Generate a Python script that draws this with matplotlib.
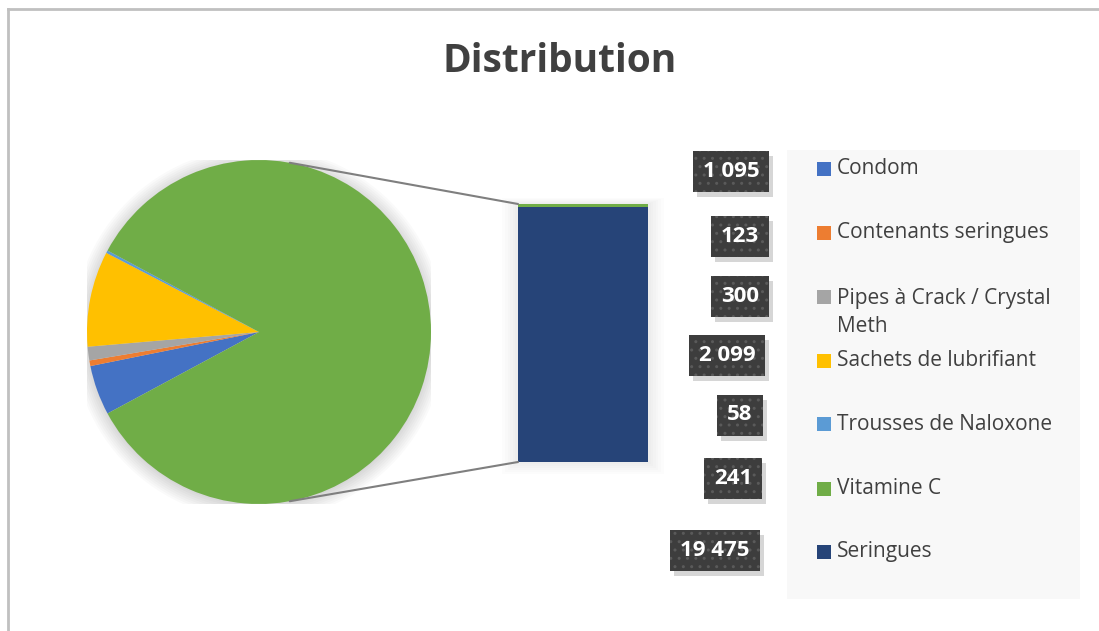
import matplotlib
matplotlib.use("Agg")
import matplotlib.pyplot as plt
from matplotlib.patches import Rectangle, ConnectionPatch, Circle
from matplotlib.lines import Line2D
import numpy as np

plt.rcParams['font.family'] = ['Open Sans', 'DejaVu Sans']
plt.rcParams['hatch.linewidth'] = 1.0

# data
categories = ["Condom", "Contenants seringues", "Pipes à Crack / Crystal\nMeth",
              "Sachets de lubrifiant", "Trousses de Naloxone", "Vitamine C", "Seringues"]
values = [1095, 123, 300, 2099, 58, 241, 19475]
labels = ["1 095", "123", "300", "2 099", "58", "241", "19 475"]
colors = ["#4472c4", "#ed7d31", "#a5a5a5", "#ffc000", "#5b9bd5", "#70ad47", "#264478"]

pie_vals = values[:5]
bar_vals = values[5:]
other = sum(bar_vals)

W, H = 1099, 631
fig = plt.figure(figsize=(W / 100, H / 100), dpi=100)
fig.patch.set_facecolor("white")


def fx(x):
    return x / W


def fy(y):
    return 1 - y / H


# frame (only top and left edges show)
fig.add_artist(Line2D([fx(8), fx(8)], [fy(9), 0], color="#c0c0c0", lw=2, transform=fig.transFigure))
fig.add_artist(Line2D([fx(8), 1], [fy(9), fy(9)], color="#c0c0c0", lw=2, transform=fig.transFigure))

fig.text(fx(560), fy(61), "Distribution", ha="center", va="center",
         fontsize=28, fontweight="bold", color="#404040")

# pie
ax_pie = fig.add_axes([fx(87), fy(504), fx(344), 344 / H])
for k in range(8):
    ax_pie.add_patch(Circle((0.0, -0.01), 1.0 + 0.012 * k, color="black", alpha=0.018, lw=0, zorder=0))
span = sum(pie_vals) / (sum(pie_vals) + other) * 360
ax_pie.pie(pie_vals + [other], colors=colors[:5] + ["#70ad47"],
           startangle=180 + span / 2, counterclock=False, radius=1.0,
           wedgeprops=dict(linewidth=0))
ax_pie.set_xlim(-1, 1)
ax_pie.set_ylim(-1, 1)
ax_pie.set_aspect("equal")
ax_pie.axis("off")

# bar of the "other" part
ax_bar = fig.add_axes([fx(518), fy(462), fx(130), 258 / H])
bottom = 0
for v, c in zip(bar_vals[::-1], colors[5:][::-1]):
    ax_bar.bar(0, v, width=1.0, bottom=bottom, color=c, linewidth=0)
    bottom += v
ax_bar.set_xlim(-0.5, 0.5)
ax_bar.set_ylim(0, other)
ax_bar.axis("off")
for k in range(1, 7):
    ax_bar.add_patch(Rectangle((-0.5 - 0.02 * k, -other * 0.008 * k), 1.0 + 0.04 * k, other * (1 + 0.012 * k),
                               fc="black", alpha=0.012, lw=0, zorder=-1, clip_on=False))

ang = np.deg2rad(79.7)
for sgn, yb in [(1, other), (-1, 0)]:
    con = ConnectionPatch(xyA=(np.cos(ang), sgn * np.sin(ang)), coordsA=ax_pie.transData,
                          xyB=(-0.5, yb), coordsB=ax_bar.transData, color="#7f7f7f", lw=1.5)
    fig.add_artist(con)

# legend panel
fig.add_artist(Rectangle((fx(787), fy(599)), fx(1080 - 787), (599 - 150) / H,
                         transform=fig.transFigure, fc="#f8f8f8", ec="none", zorder=0))
leg_y = [169, 233, 297, 361, 424, 489, 552]
for name, c, y in zip(categories, colors, leg_y):
    fig.add_artist(Rectangle((fx(817), fy(y + 7)), fx(14), 14 / H,
                             transform=fig.transFigure, fc=c, ec="none"))
    if "\n" in name:
        fig.text(fx(837), fy(y - 9), name, ha="left", va="top",
                 fontsize=15, color="#404040", linespacing=1.42)
    else:
        fig.text(fx(837), fy(y), name, ha="left", va="center",
                 fontsize=15, color="#404040")

# value labels (dark boxes with a soft offset shadow)
lab_pos = [(731, 171), (740, 236), (740, 297), (727, 356), (740, 415), (733, 478), (715, 550)]
boxes = []
for txt, (x, y) in zip(labels, lab_pos):
    t = fig.text(fx(x), fy(y), txt, ha="center", va="center", fontsize=16,
                 fontweight="bold", color="white", zorder=3,
                 bbox=dict(boxstyle="square,pad=0.45", fc="#3d3d3d", ec="#5a5a5a", lw=0, hatch=".."))
    boxes.append(t)

fig.canvas.draw()
for t in boxes:
    bb = t.get_bbox_patch().get_window_extent()
    fig.add_artist(Rectangle((bb.x0 + 4, bb.y0 - 5), bb.width, bb.height, transform=None,
                             fc="black", alpha=0.16, lw=0, zorder=2))

fig.savefig("out.png", dpi=100, facecolor="white")
